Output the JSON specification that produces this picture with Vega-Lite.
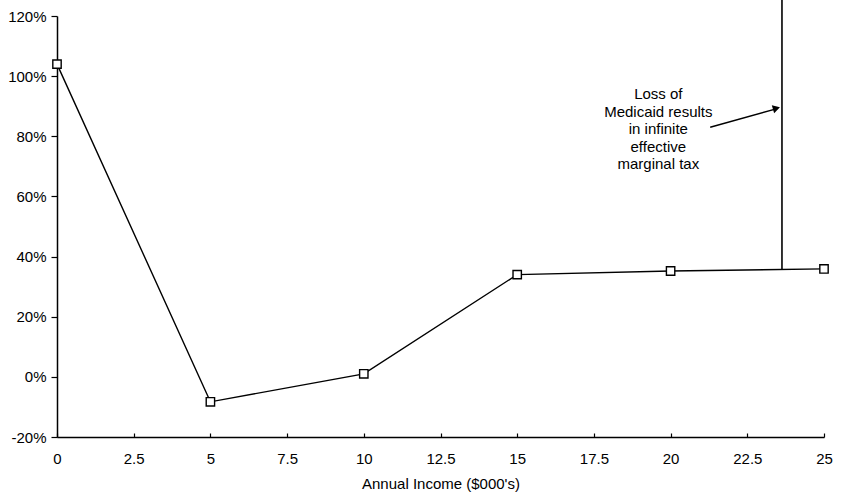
{
  "$schema": "https://vega.github.io/schema/vega-lite/v6.json",
  "width": 767,
  "height": 421,
  "autosize": "none",
  "padding": {"left": 57, "top": 16, "right": 20, "bottom": 62},
  "background": "white",
  "config": {
    "view": {"stroke": null},
    "font": "Liberation Sans",
    "axis": {"labelFont": "Liberation Sans", "titleFont": "Liberation Sans", "labelColor": "black", "titleColor": "black", "domainColor": "black", "tickColor": "black", "grid": false}
  },
  "datasets": {
    "series": [
      {"income": 0, "rate": 1.04},
      {"income": 5, "rate": -0.083},
      {"income": 10, "rate": 0.01},
      {"income": 15, "rate": 0.34},
      {"income": 20, "rate": 0.352},
      {"income": 25, "rate": 0.359}
    ],
    "medicaid": [
      {"income": 23.63, "rate": 0.356, "rate2": 1.257}
    ],
    "note": [
      {"income": 19.6, "rate": 0.94, "label": "Loss of\nMedicaid results\nin infinite\neffective\nmarginal tax"}
    ],
    "arrow": [
      {"income": 21.29, "rate": 0.83, "income2": 23.5, "rate2": 0.893}
    ],
    "arrowhead": [
      {"income": 23.45, "rate": 0.893}
    ]
  },
  "layer": [
    {
      "data": {"name": "series"},
      "mark": {"type": "line", "color": "black", "strokeWidth": 1.4},
      "encoding": {
        "x": {
          "field": "income", "type": "quantitative",
          "scale": {"domain": [0, 25], "nice": false, "zero": false},
          "axis": {
            "title": "Annual Income ($000's)",
            "titleFontSize": 15, "titleFontWeight": "normal", "titlePadding": 10,
            "values": [0, 1.25, 2.5, 3.75, 5, 6.25, 7.5, 8.75, 10, 11.25, 12.5, 13.75, 15, 16.25, 17.5, 18.75, 20, 21.25, 22.5, 23.75, 25],
            "labelExpr": "datum.value % 2.5 === 0 ? '' + datum.value : ''",
            "labelFontSize": 15, "labelPadding": 18, "tickSize": -4, "domainWidth": 1.5, "tickWidth": 1.2,
            "labelFlush": false, "labelOverlap": false
          }
        },
        "y": {
          "field": "rate", "type": "quantitative",
          "scale": {"domain": [-0.2, 1.2], "nice": false, "zero": false},
          "axis": {
            "title": null,
            "values": [-0.2, 0, 0.2, 0.4, 0.6, 0.8, 1.0, 1.2],
            "labelExpr": "replace(format(datum.value, '.0%'), '\u2212', '-')",
            "labelFontSize": 15, "labelPadding": 5, "tickSize": 6, "domainWidth": 1.5, "tickWidth": 1.2,
            "labelFlush": false, "labelOverlap": false
          }
        }
      }
    },
    {
      "data": {"name": "series"},
      "mark": {"type": "point", "shape": "square", "filled": true, "fill": "white", "stroke": "black", "strokeWidth": 1.4, "size": 70, "opacity": 1},
      "encoding": {
        "x": {"field": "income", "type": "quantitative"},
        "y": {"field": "rate", "type": "quantitative"}
      }
    },
    {
      "data": {"name": "medicaid"},
      "mark": {"type": "rule", "color": "black", "strokeWidth": 1.6, "clip": false},
      "encoding": {
        "x": {"field": "income", "type": "quantitative"},
        "y": {"field": "rate", "type": "quantitative"},
        "y2": {"field": "rate2"}
      }
    },
    {
      "data": {"name": "arrow"},
      "mark": {"type": "rule", "color": "black", "strokeWidth": 1.4},
      "encoding": {
        "x": {"field": "income", "type": "quantitative"},
        "y": {"field": "rate", "type": "quantitative"},
        "x2": {"field": "income2"},
        "y2": {"field": "rate2"}
      }
    },
    {
      "data": {"name": "arrowhead"},
      "mark": {"type": "point", "shape": "triangle-right", "filled": true, "color": "black", "size": 70, "angle": 343.7, "opacity": 1},
      "encoding": {
        "x": {"field": "income", "type": "quantitative"},
        "y": {"field": "rate", "type": "quantitative"}
      }
    },
    {
      "data": {"name": "note"},
      "mark": {"type": "text", "lineBreak": "\n", "fontSize": 15, "lineHeight": 17.5, "align": "center", "baseline": "middle", "color": "black", "font": "Liberation Sans"},
      "encoding": {
        "x": {"field": "income", "type": "quantitative"},
        "y": {"field": "rate", "type": "quantitative"},
        "text": {"field": "label"}
      }
    }
  ]
}
